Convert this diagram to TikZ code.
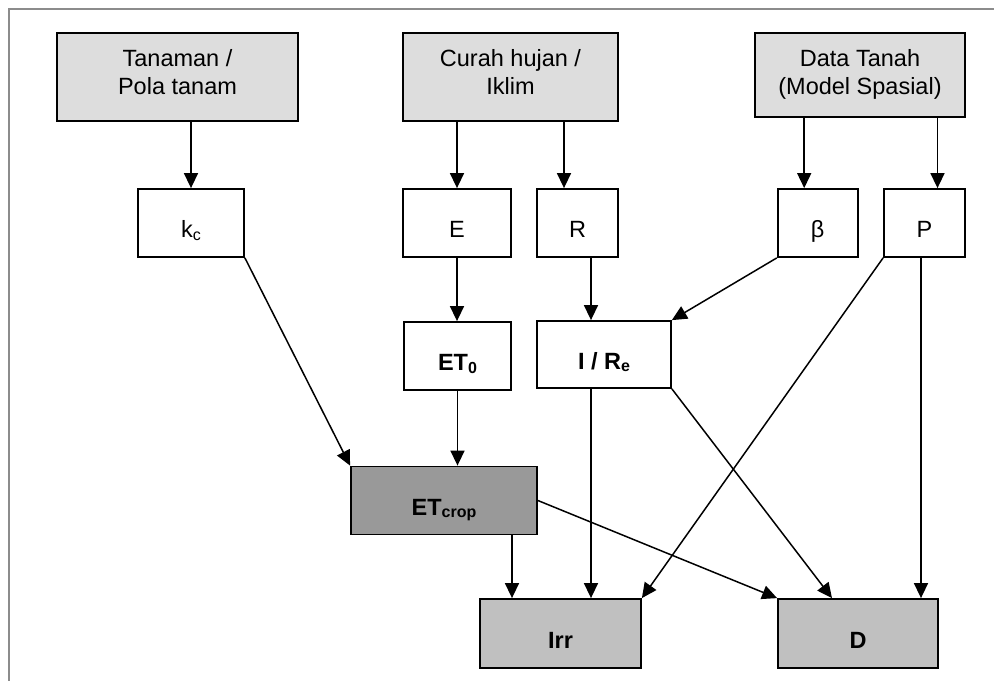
\documentclass[tikz,border=0pt]{standalone}
\usepackage{fontspec}
\setmainfont{Liberation Sans}
\usetikzlibrary{arrows.meta}
\definecolor{framegray}{RGB}{140,140,140}
\definecolor{lightfill}{RGB}{221,221,221}
\definecolor{midfill}{RGB}{192,192,192}
\definecolor{darkfill}{RGB}{153,153,153}
\newcommand\sbs[1]{\raisebox{-2.5pt}{\fontsize{16}{16}\selectfont #1}}
\newcommand\onel[1]{\raisebox{-14.5pt}[0pt][0pt]{#1}}
\newcommand\twol[3]{\raisebox{#1}[0pt][0pt]{\begin{tabular}[t]{@{}c@{}}#2\\#3\end{tabular}}}
\begin{document}
\begin{tikzpicture}[x=1pt,y=-1pt,
  font=\fontsize{23.5}{28}\selectfont,
  box/.style={draw=black, line width=1.8pt, inner sep=0pt, rectangle},
  topbox/.style={box, fill=lightfill, minimum height=88pt},
  smallbox/.style={box, fill=white, minimum height=68pt},
  resbox/.style={box, fill=midfill, minimum width=161pt, minimum height=69pt, font=\fontsize{23.5}{28}\selectfont\bfseries},
  arr/.style={line width=1.5pt, -{Triangle[length=15pt,width=14pt]}}]
\useasboundingbox (0,0) rectangle (994,681);
\draw[framegray, line width=2pt] (994,9) -- (8.5,9) -- (8.5,681);

% top row
\node[topbox, minimum width=241pt] (tan) at (177.5,77) {\twol{11pt}{Tanaman /}{Pola tanam}};
\node[topbox, minimum width=215pt] (cur) at (510.5,77) {\twol{11pt}{Curah hujan /}{Iklim}};
\node[topbox, minimum width=210pt, minimum height=84pt] (dat) at (860,75) {\twol{9pt}{Data Tanah}{(Model Spasial)}};

% second row
\node[smallbox, minimum width=106pt] (kc) at (191,223) {\onel{k\sbs{c}}};
\node[smallbox, minimum width=108pt] (E) at (457,223) {\onel{E}};
\node[smallbox, minimum width=81pt] (R) at (577.5,223) {\onel{R}};
\node[smallbox, minimum width=80pt] (beta) at (817.7,223) {\onel{β}};
\node[smallbox, minimum width=81pt] (P) at (924.5,223) {\onel{P}};

% third row
\node[smallbox, minimum width=107pt, font=\fontsize{23.5}{28}\selectfont\bfseries] (et0) at (457.5,356) {\onel{ET\sbs{0}}};
\node[smallbox, minimum width=134pt, minimum height=67pt, font=\fontsize{23.5}{28}\selectfont\bfseries] (ire) at (604,354.5) {\onel{I / R\sbs{e}}};

% ET crop
\node[box, fill=darkfill, minimum width=186pt, minimum height=68pt, font=\fontsize{23.5}{28}\selectfont\bfseries] (etc) at (444,500.5) {\onel{ET\sbs{crop}}};

% results
\node[resbox] (irr) at (560.5,633.5) {\onel{Irr}};
\node[resbox, minimum width=160pt] (D) at (858,633.5) {\onel{D}};

% connectors
\draw[arr] (tan.south -| kc.north) -- (kc.north);
\draw[arr] (cur.south -| E.north) -- (E.north);
\draw[arr] ([xshift=-13.5pt]R.north |- cur.south) -- ([xshift=-13.5pt]R.north);
\draw[arr] ([xshift=-13.5pt]beta.north |- dat.south) -- ([xshift=-13.5pt]beta.north);
\draw[arr] ([xshift=13pt]P.north |- dat.south) -- ([xshift=13pt]P.north);

\draw[arr] (kc.south east) -- (etc.north west);
\draw[arr] (E.south) -- (E.south |- et0.north);
\draw[arr] (et0.south) -- (et0.south |- etc.north);
\draw[arr] ([xshift=13.5pt]R.south) -- ([xshift=13.5pt]R.south |- ire.north);
\draw[arr] (beta.south west) -- (ire.north east);

\draw[arr] (P.south west) -- (irr.north east);
\draw[arr] ([xshift=-3.5pt]P.south) -- ([xshift=-3.5pt]P.south |- D.north);
\draw[arr] ([xshift=-13pt]ire.south) -- ([xshift=-13pt]ire.south |- irr.north);
\draw[arr] (ire.south east) -- ([xshift=-26pt]D.north);
\draw[arr] ([xshift=-48.5pt]irr.north |- etc.south) -- ([xshift=-48.5pt]irr.north);
\draw[arr] (etc.east) -- (D.north west);
\end{tikzpicture}
\end{document}
